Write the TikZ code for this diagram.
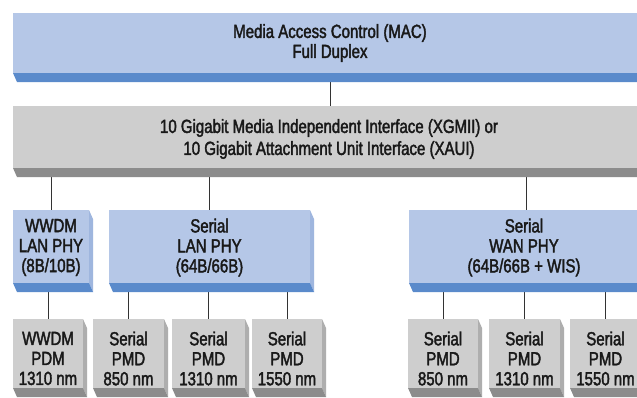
\documentclass[tikz,border=0pt]{standalone}
\usepackage{fontspec}
\setmainfont{Liberation Sans}[FakeStretch=0.79,FakeBold=2]
\usetikzlibrary{calc}
\pgfdeclarelayer{bg}
\pgfsetlayers{bg,main}

% slab colours: front face, bottom bevel, right bevel
\definecolor{blueface}{HTML}{B5C7E7}
\definecolor{bluebot}{HTML}{5A8ACB}
\definecolor{blueside}{HTML}{9FB6DE}
\definecolor{grayface}{HTML}{CECECE}
\definecolor{graybot}{HTML}{8C8C8C}
\definecolor{grayside}{HTML}{AEAEAE}

\tikzset{
  face/.style={inner sep=0pt, outer sep=0pt},
  txt/.style={align=center, inner sep=0pt, text=black!90,
              font=\fontsize{19}{20}\selectfont},
  conn/.style={draw=black!80, line width=0.8pt}
}

% \slab{name}{x0}{y0}{x1}{y1}{blue|gray}: a bevelled block
\newcommand\slab[6]{%
  \fill[#6side] (#4,#3) -- ({#4+4},{#3+9}) -- ({#4+4},{#5+9}) -- (#4,#5) -- cycle;
  \fill[#6bot] (#2,#5) -- (#4,#5) -- ({#4+4},{#5+9}) -- ({#2+4},{#5+9}) -- cycle;
  \node[face, fill=#6face, minimum width={#4-#2}, minimum height={#5-#3}]
    (#1) at ({(#2+#4)/2},{(#3+#5)/2}) {};
}

\begin{document}
\begin{tikzpicture}[x=1pt,y=-1pt]
\clip (0,0) rectangle (637,397);

% upper layers
\slab{mac}{13}{13}{647}{73}{blue}
\slab{xg}{13}{106}{647}{168}{gray}

% PHY blocks
\slab{wlan}{13}{210}{89}{283}{blue}
\slab{slan}{109}{210}{310}{283}{blue}
\slab{swan}{409}{210}{643}{283}{blue}

% PMD blocks
\slab{wpdm}{13}{319}{83}{388}{gray}
\slab{lp1}{93}{319}{164}{388}{gray}
\slab{lp2}{172}{319}{245}{388}{gray}
\slab{lp3}{252}{319}{322}{388}{gray}
\slab{wp1}{408}{319}{478}{388}{gray}
\slab{wp2}{489}{319}{560}{388}{gray}
\slab{wp3}{570}{319}{641}{388}{gray}

% labels
\node[txt] (mac-t) at (330,43) {Media Access Control (MAC)\\Full Duplex};
\node[txt, font=\fontsize{19}{22}\selectfont] (xg-t) at (329,139)
  {10 Gigabit Media Independent Interface (XGMII) or\\10 Gigabit Attachment Unit Interface (XAUI)};
\node[txt] (wlan-t) at ($(wlan.center)+(0,1)$) {WWDM\\LAN PHY\\(8B/10B)};
\node[txt] (slan-t) at ($(slan.center)+(0,1)$) {Serial\\LAN PHY\\(64B/66B)};
\node[txt] (swan-t) at ($(swan.center)+(-2,1)$) {Serial\\WAN PHY\\(64B/66B + WIS)};
\node[txt] (wpdm-t) at ($(wpdm.center)+(0,5)$) {WWDM\\PDM\\1310 nm};
\node[txt] (lp1-t) at ($(lp1.center)+(0,5)$) {Serial\\PMD\\850 nm};
\node[txt] (lp2-t) at ($(lp2.center)+(0,5)$) {Serial\\PMD\\1310 nm};
\node[txt] (lp3-t) at ($(lp3.center)+(0,5)$) {Serial\\PMD\\1550 nm};
\node[txt] (wp1-t) at ($(wp1.center)+(0,5)$) {Serial\\PMD\\850 nm};
\node[txt] (wp2-t) at ($(wp2.center)+(0,5)$) {Serial\\PMD\\1310 nm};
\node[txt] (wp3-t) at ($(wp3.center)+(0,5)$) {Serial\\PMD\\1550 nm};

% connectors, behind the blocks
\begin{pgfonlayer}{bg}
\fill[white] (0,0) rectangle (637,397);
\draw[conn] (xg.north) -- (xg.north |- mac.south);
\foreach \c in {wlan,slan,swan}
  \draw[conn] (\c.north) -- (\c.north |- xg.south);
\draw[conn] (wpdm.north) -- (wpdm.north |- wlan.south);
\foreach \c in {lp1,lp2,lp3}
  \draw[conn] (\c.north) -- (\c.north |- slan.south);
\foreach \c in {wp1,wp2,wp3}
  \draw[conn] (\c.north) -- (\c.north |- swan.south);
\end{pgfonlayer}
\end{tikzpicture}
\end{document}
